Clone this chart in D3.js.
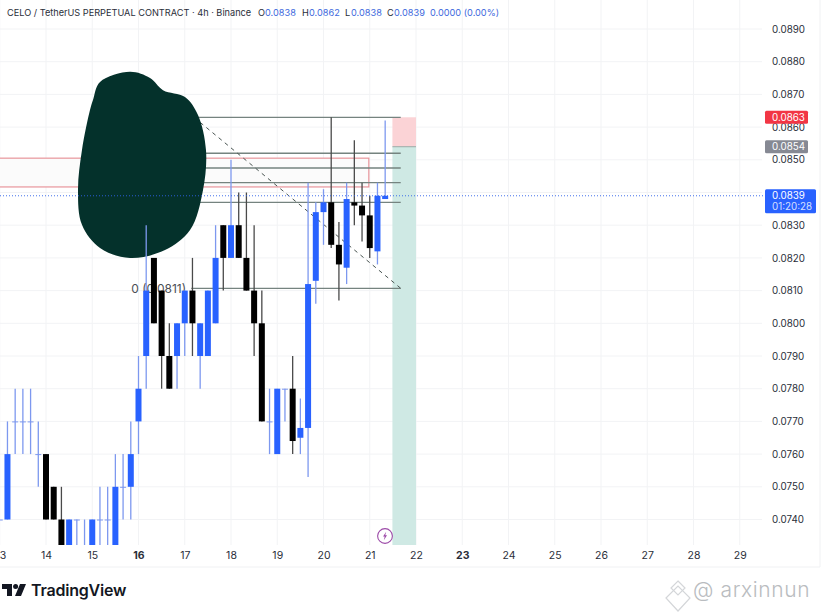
<!DOCTYPE html>
<html><head><meta charset="utf-8">
<script src="https://cdn.jsdelivr.net/npm/d3@7/dist/d3.min.js"></script>
<style>html,body{margin:0;padding:0;background:#fff;overflow:hidden}svg{display:block}text{font-family:Inter,"Noto Sans",sans-serif}</style>
</head><body><svg id="c" width="828" height="614"></svg>
<script>
const startDay = 13;
const candlesPerDay = 6;
const opens  = [.0740,.0740,.0770,.0770,.0770,.0760,.0760,.0750,.0740,.0730,.0740,.0730,.0730,.0740,.0740,.0730,.0750,.0750,.0770,.0790,.0820,.0810,.0790,.0790,.0800,.0810,.0790,.0790,.0800,.0830,.0820,.0830,.0820,.0810,.0800,.0770,.0760,.0780,.0780,.0765,.0768,.0813,.0834,.0837,.0824,.0817,.0837,.0836,.0833,.0822,.0838];
const closes = [.0740,.0760,.0770,.0770,.0770,.0760,.0740,.0740,.0730,.0740,.0740,.0730,.0740,.0740,.0740,.0750,.0750,.0760,.0780,.0810,.0800,.0790,.0780,.0800,.0810,.0800,.0800,.0810,.0820,.0820,.0830,.0820,.0810,.0800,.0770,.0770,.0780,.0780,.0764,.0768,.0812,.0834,.0837,.0824,.0818,.0838,.0836,.0833,.0823,.0839,.0839];
const highs  = [.0740,.0770,.0780,.0780,.0780,.0770,.0760,.0750,.0750,.0740,.0740,.0740,.0740,.0750,.0750,.0760,.0760,.0770,.0790,.0830,.0820,.0810,.0800,.0800,.0810,.0820,.0800,.0810,.0830,.0830,.0850,.0840,.0840,.0830,.0810,.0780,.0780,.0780,.0790,.0777,.0843,.0837,.0841,.0863,.0831,.0843,.0856,.0843,.0839,.0843,.0862];
const lows   = [.0740,.0740,.0760,.0760,.0760,.0750,.0740,.0740,.0730,.0730,.0730,.0730,.0730,.0730,.0730,.0730,.0740,.0740,.0760,.0780,.0800,.0780,.0780,.0780,.0790,.0790,.0780,.0790,.0800,.0810,.0820,.0820,.0810,.0790,.0770,.0760,.0760,.0770,.0760,.0760,.0753,.0806,.0824,.0823,.0807,.0812,.0830,.0825,.0820,.0818,.0838];

const gridPrices = [.0890,.0880,.0870,.0860,.0850,.0840,.0830,.0820,.0810,.0800,.0790,.0780,.0770,.0760,.0750,.0740];
const priceLabels = [.0890,.0880,.0870,.0860,.0850,.0830,.0820,.0810,.0800,.0790,.0780,.0770,.0760,.0750,.0740];
const dayTicks = [13,14,15,16,17,18,19,20,21,22,23,24,25,26,27,28,29];
const boldDays = [16,23];

const fibPrices = [.0863,.0852,.08475,.0843,.0837,.08107];
const fibStartDay = 17.14, fibEndDay = 21.67;
const zoneBox = {d0:12.9, d1:20.98, top:.08505, bottom:.08417};
const diagonal = {d0:17.2, p0:.0863, d1:21.67, p1:.08107};
const riskBox = {d0:21.49, d1:22, entry:.0854, stop:.0863, target:.0732};
const lastPrice = .0839;
const blobOutline = [[15.016,.08683],[15.168,.08738],[15.816,.08769],[16.249,.08750],[16.530,.08713],[17.005,.08692],[17.286,.08637],[17.459,.08530],[17.395,.08408],[17.114,.08285],[16.573,.08224],[15.816,.08200],[15.168,.08230],[14.778,.08301],[14.692,.08408],[14.778,.08530],[14.951,.08652]];

const W=828, plotR=820, plotB=545;
const x = d3.scaleLinear().domain([14,29]).range([46,739.75]);
const y = d3.scaleLinear().domain([.0890,.0740]).range([29,519.5]);
const svg = d3.select('#c');
svg.append('defs').append('clipPath').attr('id','clip').append('rect').attr('x',0).attr('y',0).attr('width',762).attr('height',plotB);

// grid
const grid = svg.append('g').attr('stroke','#f2f3f5').attr('stroke-width',1);
grid.selectAll('.h').data(gridPrices).join('line').attr('x1',0).attr('x2',762).attr('y1',d=>y(d)).attr('y2',d=>y(d));
grid.selectAll('.v').data(dayTicks).join('line').attr('y1',0).attr('y2',plotB).attr('x1',d=>x(d)).attr('x2',d=>x(d));
svg.append('line').attr('x1',0).attr('x2',plotR).attr('y1',567).attr('y2',567).attr('stroke','#f0f1f3');
svg.append('line').attr('x1',plotR).attr('x2',plotR).attr('y1',0).attr('y2',567).attr('stroke','#f0f1f3');

const chart = svg.append('g').attr('clip-path','url(#clip)');

// risk/reward boxes
chart.append('rect').attr('x',x(riskBox.d0)).attr('width',x(riskBox.d1)-x(riskBox.d0)).attr('y',y(riskBox.stop)).attr('height',y(riskBox.entry)-y(riskBox.stop)).attr('fill','#fbd3d6');
chart.append('rect').attr('x',x(riskBox.d0)).attr('width',x(riskBox.d1)-x(riskBox.d0)).attr('y',y(riskBox.entry)).attr('height',y(riskBox.target)-y(riskBox.entry)).attr('fill','#cfe9e4');
chart.append('line').attr('x1',x(riskBox.d0)).attr('x2',x(riskBox.d1)).attr('y1',y(riskBox.entry)).attr('y2',y(riskBox.entry)).attr('stroke','#9aa8a4');

// zone
chart.append('rect').attr('x',x(zoneBox.d0)).attr('width',x(zoneBox.d1)-x(zoneBox.d0)).attr('y',y(zoneBox.top)).attr('height',y(zoneBox.bottom)-y(zoneBox.top)).attr('fill','#fbfbfb').attr('stroke','#e8959b').attr('stroke-width',1.2);

// fib lines
chart.selectAll('.fib').data(fibPrices).join('line').attr('x1',x(fibStartDay)).attr('x2',x(fibEndDay)).attr('y1',d=>y(d)).attr('y2',d=>y(d)).attr('stroke','#75837f').attr('stroke-width',1.3);
chart.append('line').attr('x1',x(diagonal.d0)).attr('y1',y(diagonal.p0)).attr('x2',x(diagonal.d1)).attr('y2',y(diagonal.p1)).attr('stroke','#4a5552').attr('stroke-width',1).attr('stroke-dasharray','4 4');

// fib label
chart.append('text').attr('x',x(17.03)).attr('y',y(.0811)+6).attr('text-anchor','end').attr('font-size',12).attr('fill','#4b4f55').text('0 (0.0811)');

// redaction blob
chart.append('path').attr('d',d3.line().x(d=>x(d[0])).y(d=>y(d[1])).curve(d3.curveCatmullRomClosed)(blobOutline)).attr('fill','#04312b');

// candles
const idx = d3.range(opens.length);
const cx = i => x(startDay + i/candlesPerDay);
const BLUE='#2962ff', BLACK='#000';
const isUp = i => closes[i] >= opens[i];
chart.selectAll('.w').data(idx).join('line')
  .attr('x1',cx).attr('x2',cx).attr('y1',i=>y(highs[i])).attr('y2',i=>y(lows[i]))
  .attr('stroke',i=>isUp(i)?'#7d98ef':'#4a4a4a').attr('stroke-width',1.3);
chart.selectAll('.b').data(idx).join('rect')
  .attr('x',i=>cx(i)-3).attr('width',6)
  .attr('y',i=>y(Math.max(opens[i],closes[i])))
  .attr('height',i=>Math.max(1,Math.abs(y(opens[i])-y(closes[i]))))
  .attr('fill',i=>opens[i]===closes[i]?'#7d98ef':isUp(i)?BLUE:BLACK);

// last price dotted
svg.append('line').attr('x1',0).attr('x2',765).attr('y1',y(lastPrice)).attr('y2',y(lastPrice)).attr('stroke','#2f62e8').attr('stroke-opacity',.9).attr('stroke-dasharray','1 2');

// price axis
const yAxis = d3.axisRight(y).tickValues(priceLabels).tickFormat(d3.format('.4f')).tickSize(0).tickPadding(0);
const ya = svg.append('g').attr('transform','translate(772,0)').call(yAxis);
ya.select('.domain').remove();
ya.selectAll('text').attr('font-size',9.8).attr('fill','#2a2e39').attr('font-family','Inter,sans-serif');

// time axis
const xAxis = d3.axisBottom(x).tickValues(dayTicks).tickFormat(d=>d===13?'3':String(d)).tickSize(0).tickPadding(0);
const xa = svg.append('g').attr('transform','translate(0,552)').call(xAxis);
xa.select('.domain').remove();
xa.selectAll('text').attr('font-size',10.5).attr('fill','#2a2e39').attr('font-family','Inter,sans-serif')
  .attr('font-weight',d=>boldDays.includes(d)?700:400);
xa.selectAll('.tick').filter(d=>d===13).attr('transform','translate(3,0)');

// price badges
const badges = [{p:.0863,c:'#f23645',w:43,t:['0.0863']},{p:.0854,c:'#868993',w:43,t:['0.0854']},{p:.0839,c:'#2962ff',w:51,t:['0.0839','01:20:28']}];
badges.forEach(b=>{
  const h = b.t.length>1?24:13, top = y(b.p)-(b.t.length>1?6.5:6.5);
  svg.append('rect').attr('x',765).attr('y',top).attr('width',b.w).attr('height',h).attr('rx',1.5).attr('fill',b.c);
  b.t.forEach((s,k)=>svg.append('text').attr('x',772).attr('y',top+10+k*11.2).attr('font-size',9.8).attr('fill','#fff').attr('fill-opacity',k?.82:1).text(s));
});

// header
const header = svg.append('text').attr('y',16).attr('font-size',9.2).attr('fill','#2a2e39');
[['CELO / TetherUS PERPETUAL CONTRACT · 4h · Binance',7,0],['O',258,0],['0.0838',265,1],['H',302,0],['0.0862',309,1],['L',345,0],['0.0838',351,1],['C',387,0],['0.0839',394,1],['0.0000 (0.00%)',430,1]]
 .forEach(([s,px,blue])=>header.append('tspan').attr('x',px).attr('fill',blue?'#3d68dd':'#2a2e39').text(s));

// lightning badge
const lg = svg.append('g').attr('transform',`translate(${x(21.33)},536)`);
lg.append('circle').attr('r',7.4).attr('fill','#fff').attr('stroke','#9c4aa8').attr('stroke-width',1.1);
lg.append('path').attr('d','M1.2,-4.2 L-2,0.6 L-0.3,0.6 L-1.2,4.2 L2,-0.8 L0.2,-0.8 Z').attr('fill','#9c4aa8');

// TradingView logo
const tv = svg.append('g').attr('fill','#131722');
tv.append('path').attr('d','M2,584 H12 V596 H7 V589 H2 Z');
tv.append('circle').attr('cx',15.6).attr('cy',586.5).attr('r',2.5);
tv.append('path').attr('d','M20,584 H26 L21,596 H15 Z');
tv.append('text').attr('x',31).attr('y',596).attr('font-size',16).attr('font-weight',600).attr('letter-spacing',-0.2).text('TradingView');

// watermark
const wm = svg.append('g').attr('fill','none').attr('stroke','#d4d6d9').attr('stroke-width',1.2);
wm.append('path').attr('d','M678,581 L685,588 L678,595 L671,588 Z');
wm.append('path').attr('d','M666,598 L678,586 L690,598 L678,611 Z');
svg.append('text').attr('x',693).attr('y',597).attr('font-size',21).attr('font-weight',300).attr('fill','#b9bcc0').attr('letter-spacing',.6).text('@ arxinnun');
</script></body></html>
